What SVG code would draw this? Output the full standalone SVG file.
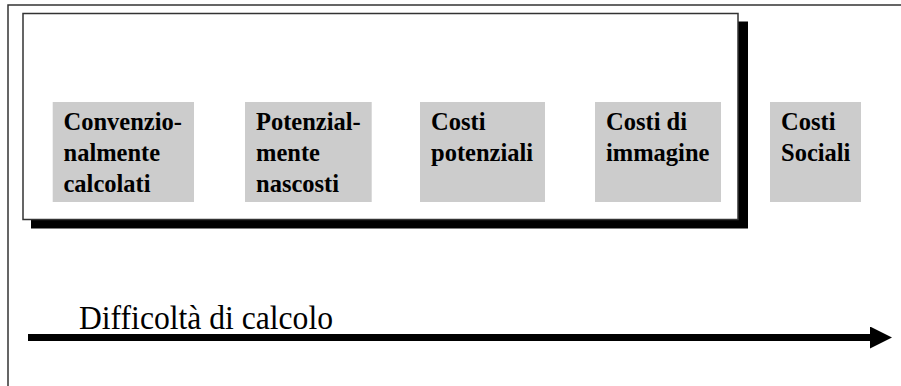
<svg xmlns="http://www.w3.org/2000/svg" width="901" height="386" viewBox="0 0 901 386">
<style>
.lbl{font-family:"Liberation Serif","Times New Roman",serif;font-weight:bold;font-size:24.5px;fill:#000}
.box{fill:#cccccc}
.frame{stroke:#333;stroke-width:1.5}
.axis{font-family:"Liberation Serif","Times New Roman",serif;font-size:34px;fill:#000}
</style>
<defs>
<marker id="ah" markerUnits="userSpaceOnUse" markerWidth="22" markerHeight="22" refX="0" refY="11" orient="auto" viewBox="0 0 22 22">
<path d="M0,0 L22,11 L0,22 Z" fill="#000"/>
</marker>
</defs>
<rect width="901" height="386" fill="#fff"/>
<g id="outer-frame">
<path d="M901,5 H8 V386" class="frame" fill="none"/>
</g>
<g id="group-box">
<rect x="31" y="21.5" width="717" height="207" fill="#000"/>
<rect x="23" y="13.5" width="715" height="206" fill="#fff" class="frame"/>
</g>
<g id="node-convenzionalmente">
<rect class="box" x="52.7" y="102" width="141.3" height="100"/>
<text class="lbl" x="63.5" y="130">Convenzio-</text>
<text class="lbl" x="63.5" y="160.8">nalmente</text>
<text class="lbl" x="63.5" y="191.6">calcolati</text>
</g>
<g id="node-potenzialmente">
<rect class="box" x="245" y="102" width="126.7" height="100"/>
<text class="lbl" x="256" y="130">Potenzial-</text>
<text class="lbl" x="256" y="160.8">mente</text>
<text class="lbl" x="256" y="191.6">nascosti</text>
</g>
<g id="node-costi-potenziali">
<rect class="box" x="420" y="102" width="125" height="100"/>
<text class="lbl" x="431" y="130">Costi</text>
<text class="lbl" x="431" y="160.8">potenziali</text>
</g>
<g id="node-costi-immagine">
<rect class="box" x="595" y="102" width="126" height="100"/>
<text class="lbl" x="606" y="130">Costi di</text>
<text class="lbl" x="606" y="160.8">immagine</text>
</g>
<g id="node-costi-sociali">
<rect class="box" x="770" y="102" width="91" height="100"/>
<text class="lbl" x="781" y="130">Costi</text>
<text class="lbl" x="781" y="160.8">Sociali</text>
</g>
<g id="connectors">
<line x1="28" y1="337.5" x2="870" y2="337.5" stroke="#000" stroke-width="7" marker-end="url(#ah)"/>
<text class="axis" x="79" y="329" textLength="254" lengthAdjust="spacingAndGlyphs">Difficoltà di calcolo</text>
</g>
</svg>
